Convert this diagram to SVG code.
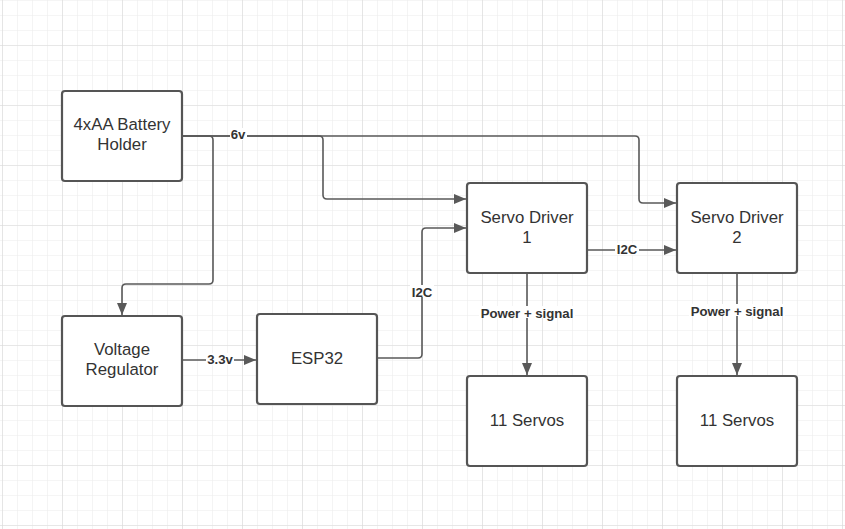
<svg xmlns="http://www.w3.org/2000/svg" width="845" height="529" viewBox="0 0 845 529">
<style>
.node rect{fill:#fff;stroke:#555;stroke-width:2.2}
.node text{font-family:"Liberation Sans",Arial,sans-serif;font-size:16.8px;fill:#333;text-anchor:middle}
.conn path{fill:none;stroke:#595959;stroke-width:1.6}
.lbl{font-family:"Liberation Sans",Arial,sans-serif;font-size:13.2px;font-weight:bold;fill:#333;text-anchor:middle}
.lbg{fill:#fff}
</style>
<defs>
<pattern id="minor" width="15" height="15" x="2" y="0" patternUnits="userSpaceOnUse">
<path d="M0 0V15M0 0H15" fill="none" stroke="#ececec" stroke-width="1.2"/>
</pattern>
<pattern id="major" width="60" height="60" x="2" y="45" patternUnits="userSpaceOnUse">
<path d="M0 0V60M0 0H60" fill="none" stroke="#dadada" stroke-width="1.2"/>
</pattern>
<marker id="arr" markerWidth="12" markerHeight="10" refX="12" refY="5" orient="auto" markerUnits="userSpaceOnUse">
<path d="M0 0L12 5L0 10Z" fill="#595959"/>
</marker>
</defs>
<rect width="845" height="529" fill="#fff"/>
<rect width="845" height="529" fill="url(#minor)"/>
<rect width="845" height="529" fill="url(#major)"/>
<g id="connectors" class="conn">
<path d="M182 136H319Q323 136 323 140V195Q323 199 327 199H466" marker-end="url(#arr)"/>
<path d="M182 136H635Q639 136 639 140V199Q639 203 643 203H676" marker-end="url(#arr)"/>
<path d="M182 136H209Q213 136 213 140V280Q213 284 209 284H126Q122 284 122 288V315" marker-end="url(#arr)"/>
<path d="M182 360H256" marker-end="url(#arr)"/>
<path d="M377 358H418Q422 358 422 354V232Q422 228 426 228H466" marker-end="url(#arr)"/>
<path d="M587 250H676" marker-end="url(#arr)"/>
<path d="M527 273V375" marker-end="url(#arr)"/>
<path d="M737 273V375" marker-end="url(#arr)"/>
<rect class="lbg" x="230" y="128" width="17" height="12"/>
<text class="lbl" x="238" y="138.5">6v</text>
<rect class="lbg" x="206" y="353" width="28" height="12"/>
<text class="lbl" x="220" y="363.5">3.3v</text>
<rect class="lbg" x="410" y="285" width="24" height="12"/>
<text class="lbl" x="422" y="296.5">I2C</text>
<rect class="lbg" x="615" y="243" width="24" height="12"/>
<text class="lbl" x="627" y="253.5">I2C</text>
<rect class="lbg" x="479" y="306" width="96" height="12"/>
<text class="lbl" x="527" y="317.5">Power + signal</text>
<rect class="lbg" x="689" y="304" width="96" height="12"/>
<text class="lbl" x="737" y="315.5">Power + signal</text>
</g>
<g id="battery" class="node"><rect x="62" y="91" width="120" height="90" rx="3"/><text x="122" y="130">4xAA Battery</text><text x="122" y="150">Holder</text></g>
<g id="regulator" class="node"><rect x="62" y="316" width="120" height="90" rx="3"/><text x="122" y="355">Voltage</text><text x="122" y="375">Regulator</text></g>
<g id="esp32" class="node"><rect x="257" y="314" width="120" height="90" rx="3"/><text x="317" y="364">ESP32</text></g>
<g id="driver1" class="node"><rect x="467" y="183" width="120" height="90" rx="3"/><text x="527" y="223">Servo Driver</text><text x="527" y="243">1</text></g>
<g id="driver2" class="node"><rect x="677" y="183" width="120" height="90" rx="3"/><text x="737" y="223">Servo Driver</text><text x="737" y="243">2</text></g>
<g id="servos1" class="node"><rect x="467" y="376" width="120" height="90" rx="3"/><text x="527" y="426">11 Servos</text></g>
<g id="servos2" class="node"><rect x="677" y="376" width="120" height="90" rx="3"/><text x="737" y="426">11 Servos</text></g>
</svg>
